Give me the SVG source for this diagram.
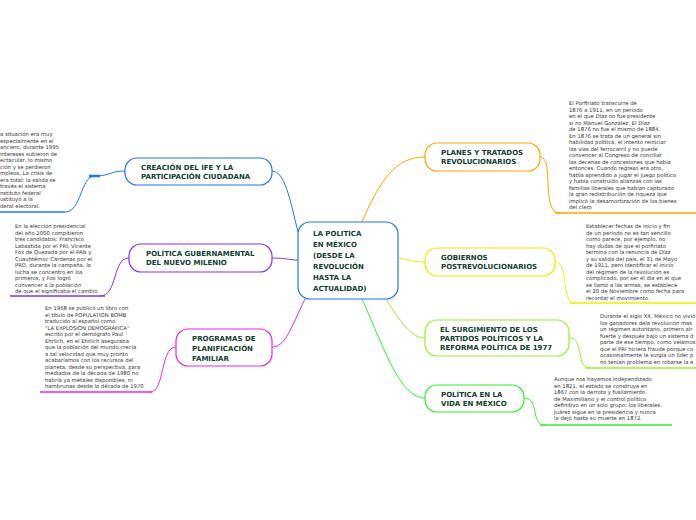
<svg xmlns="http://www.w3.org/2000/svg" width="696" height="520" viewBox="0 0 696 520">
<style>
.n{fill:#fff;stroke-width:1.2}
.t{font-family:Verdana,"DejaVu Sans",sans-serif;font-size:7px;font-weight:bold;fill:#10402e}
.c{font-family:Verdana,"DejaVu Sans",sans-serif;font-size:5.3px;fill:#333}
.l{fill:none;stroke-width:1}
.u{fill:none;stroke-width:1.6}
</style>
<rect width="696" height="520" fill="#fff"/>
<g id="connectors">
<path class="l" stroke="#ffa500" d="M360,226 C380,180 395,157 425,157"/>
<path class="l" stroke="#eeee00" d="M398,258 C410,260 415,262 425,262"/>
<path class="l" stroke="#99ee33" d="M385,298 C400,320 410,338 425,338"/>
<path class="l" stroke="#33ee33" d="M362,299 C385,350 400,398 425,398"/>
<path class="l" stroke="#2277ee" d="M298,232 C290,200 285,171 272,171"/>
<path class="l" stroke="#8833ee" d="M298,260 C290,260 285,258 272,258"/>
<path class="l" stroke="#ee22ee" d="M305,299 C290,330 285,347 272,347"/>
<path class="l" stroke="#ffa500" d="M540,157 C555,157 540,213 560,213"/>
<path class="u" stroke="#ffa500" d="M555,213 H696"/>
<path class="l" stroke="#eeee00" d="M555,262 C570,262 560,303 575,303"/>
<path class="u" stroke="#eeee00" d="M570,303 H696"/>
<path class="l" stroke="#99ee33" d="M569,338 C585,338 575,368 590,368"/>
<path class="u" stroke="#99ee33" d="M585,368 H696"/>
<path class="l" stroke="#33ee33" d="M524,398 C540,398 530,425 545,425"/>
<path class="u" stroke="#33ee33" d="M540,425 H672"/>
<path class="l" stroke="#2277ee" d="M125,171 C110,171 110,176 95,176 C80,176 82,212 65,212"/>
<path stroke="#2277ee" stroke-width="2.5" d="M89,176 H100"/>
<path class="u" stroke="#2277ee" d="M0,212 H65"/>
<path class="l" stroke="#8833ee" d="M129,258 C112,258 118,296 100,296"/>
<path class="u" stroke="#8833ee" d="M10,296 H105"/>
<path class="l" stroke="#ee22ee" d="M176,347 C160,347 165,392 150,392"/>
<path class="u" stroke="#ee22ee" d="M40,392 H152"/>
</g>
<g id="central">
<rect class="n" x="298" y="222" width="100" height="77" rx="12" stroke="#2277ee"/>
<text class="t" font-size="8"><tspan x="313" y="236">LA POLITICA</tspan><tspan x="313" y="247">EN MÉXICO</tspan><tspan x="313" y="258">(DESDE LA</tspan><tspan x="313" y="269">REVOLUCIÓN</tspan><tspan x="313" y="280">HASTA LA</tspan><tspan x="313" y="291">ACTUALIDAD)</tspan></text>
</g>
<g id="planes">
<rect class="n" x="425" y="143" width="115" height="28" rx="12" stroke="#ffa500"/>
<text class="t"><tspan x="441" y="155">PLANES Y TRATADOS</tspan><tspan x="441" y="164">REVOLUCIONARIOS</tspan></text>
<text class="c"><tspan x="569" y="105">El Porfiriato transcurre de</tspan><tspan x="569" y="111.5">1876 a 1911, en un periodo</tspan><tspan x="569" y="118">en el que Díaz no fue presidente</tspan><tspan x="569" y="124.5">si no Manuel González. El Díaz</tspan><tspan x="569" y="131">de 1876 no fue el mismo de 1884.</tspan><tspan x="569" y="137.5">En 1876 se trata de un general sin</tspan><tspan x="569" y="144">habilidad política, el intento reiniciar</tspan><tspan x="569" y="150.5">las vías del ferrocarril y no puede</tspan><tspan x="569" y="157">convencer al Congreso de conciliar</tspan><tspan x="569" y="163.5">las decenas de concesiones que había</tspan><tspan x="569" y="170">entonces. Cuando regreso era otro,</tspan><tspan x="569" y="176.5">había aprendido a jugar el juego político</tspan><tspan x="569" y="183">y había construido alianzas con las</tspan><tspan x="569" y="189.5">familias liberales que habían capturado</tspan><tspan x="569" y="196">la gran redistribución de riqueza que</tspan><tspan x="569" y="202.5">implicó la desamortización de los bienes</tspan><tspan x="569" y="209">del clero</tspan></text>
</g>
<g id="gobiernos">
<rect class="n" x="425" y="248" width="130" height="28" rx="12" stroke="#eeee00"/>
<text class="t"><tspan x="441" y="260">GOBIERNOS</tspan><tspan x="441" y="269">POSTREVOLUCIONARIOS</tspan></text>
<text class="c"><tspan x="586" y="228">Establecer fechas de inicio y fin</tspan><tspan x="586" y="234.5">de un periodo no es tan sencillo</tspan><tspan x="586" y="241">como parece, por ejemplo, no</tspan><tspan x="586" y="247.5">hay dudas de que el porfiriato</tspan><tspan x="586" y="254">termina con la renuncia de Díaz</tspan><tspan x="586" y="260.5">y su salida del país, el 31 de Mayo</tspan><tspan x="586" y="267">de 1911, pero identificar el inicio</tspan><tspan x="586" y="273.5">del régimen de la revolución es</tspan><tspan x="586" y="280">complicado, por ser el día en el que</tspan><tspan x="586" y="286.5">se llamó a las armas, se establece</tspan><tspan x="586" y="293">el 20 de Noviembre como fecha para</tspan><tspan x="586" y="299.5">recordar el movimiento.</tspan></text>
</g>
<g id="surgimiento">
<rect class="n" x="425" y="320" width="144" height="36" rx="12" stroke="#99ee33"/>
<text class="t"><tspan x="440" y="332">EL SURGIMIENTO DE LOS</tspan><tspan x="440" y="341">PARTIDOS POLÍTICOS Y LA</tspan><tspan x="440" y="350">REFORMA POLÍTICA DE 1977</tspan></text>
<text class="c"><tspan x="600" y="318">Durante el siglo XX, México no vivió</tspan><tspan x="600" y="324.5">los ganadores dela revolución mas</tspan><tspan x="600" y="331">un régimen autoritario, primero alr</tspan><tspan x="600" y="337.5">fuerte y después bajo un sistema d</tspan><tspan x="600" y="344">parte de ese tiempo, como veíamos</tspan><tspan x="600" y="350.5">que el PRI hiciera fraude porque co</tspan><tspan x="600" y="357">ocasionalmente le surgía un líder p</tspan><tspan x="600" y="363.5">no tenían problema en robarse la e</tspan></text>
</g>
<g id="vida">
<rect class="n" x="425" y="385" width="99" height="27" rx="12" stroke="#33ee33"/>
<text class="t"><tspan x="441" y="397">POLÍTICA EN LA</tspan><tspan x="441" y="406">VIDA EN MÉXICO</tspan></text>
<text class="c"><tspan x="554" y="381">Aunque nos hayamos independizado</tspan><tspan x="554" y="387.5">en 1821, el estado se construye en</tspan><tspan x="554" y="394">1867 con la derrota y fusilamiento</tspan><tspan x="554" y="400.5">de Maximiliano y el control político</tspan><tspan x="554" y="407">definitivo en un solo grupo: los liberales.</tspan><tspan x="554" y="413.5">Juárez sigue en la presidencia y nunca</tspan><tspan x="554" y="420">la dejó hasta su muerte en 1872.</tspan></text>
</g>
<g id="creacion">
<rect class="n" x="125" y="158" width="147" height="27" rx="12" stroke="#2277ee"/>
<text class="t"><tspan x="141" y="170">CREACIÓN DEL IFE Y LA</tspan><tspan x="141" y="179">PARTICIPACIÓN CIUDADANA</tspan></text>
<text class="c"><tspan x="0" y="136">a situación era muy</tspan><tspan x="0" y="142.5">especialmente en el</tspan><tspan x="0" y="149">anciero, durante 1995</tspan><tspan x="0" y="155.5">intereses subieron de</tspan><tspan x="0" y="162">ectacular, lo mismo</tspan><tspan x="0" y="168.5">ción y se perdieron</tspan><tspan x="0" y="175">mpleos. La crisis de</tspan><tspan x="0" y="181.5">era total; la salida se</tspan><tspan x="0" y="188">través el sistema</tspan><tspan x="0" y="194.5">nstituto federal</tspan><tspan x="0" y="201">ustituyó a la</tspan><tspan x="0" y="207.5">deral electoral.</tspan></text>
</g>
<g id="gubernamental">
<rect class="n" x="129" y="244" width="143" height="28" rx="12" stroke="#8833ee"/>
<text class="t"><tspan x="146" y="256">POLÍTICA GUBERNAMENTAL</tspan><tspan x="146" y="265">DEL NUEVO MILENIO</tspan></text>
<text class="c"><tspan x="15" y="228">En la elección presidencial</tspan><tspan x="15" y="234.5">del año 2000 compitieron</tspan><tspan x="15" y="241">tres candidatos: Francisco</tspan><tspan x="15" y="247.5">Labastida por el PRI, Vicente</tspan><tspan x="15" y="254">Fox de Quezada por el PAN y</tspan><tspan x="15" y="260.5">Cuauhtémoc Cárdenas por el</tspan><tspan x="15" y="267">PRD, durante la campaña, la</tspan><tspan x="15" y="273.5">lucha se concentro en los</tspan><tspan x="15" y="280">primeros, y Fox logró</tspan><tspan x="15" y="286.5">convencer a la población</tspan><tspan x="15" y="293">de que el significaba el cambio</tspan></text>
</g>
<g id="programas">
<rect class="n" x="176" y="329" width="96" height="37" rx="12" stroke="#ee22ee"/>
<text class="t"><tspan x="192" y="341">PROGRAMAS DE</tspan><tspan x="192" y="351">PLANIFICACIÓN</tspan><tspan x="192" y="361">FAMILIAR</tspan></text>
<text class="c"><tspan x="45" y="310">En 1968 se publicó un libro con</tspan><tspan x="45" y="316.5">el título de POPULATION BOMB</tspan><tspan x="45" y="323">traducido al español como</tspan><tspan x="45" y="329.5">"LA EXPLOSIÓN DEMOGRÁFICA"</tspan><tspan x="45" y="336">escrito por el demógrafo Paul</tspan><tspan x="45" y="342.5">Ehrlich, en el Ehrlich aseguraba</tspan><tspan x="45" y="349">que la población del mundo crecía</tspan><tspan x="45" y="355.5">a tal velocidad que muy pronto</tspan><tspan x="45" y="362">acabaríamos con los recursos del</tspan><tspan x="45" y="368.5">planeta, desde su perspectiva, para</tspan><tspan x="45" y="375">mediados de la década de 1980 no</tspan><tspan x="45" y="381.5">habría ya metales disponibles, ni</tspan><tspan x="45" y="388">hambrunas desde la década de 1970</tspan></text>
</g>
</svg>
